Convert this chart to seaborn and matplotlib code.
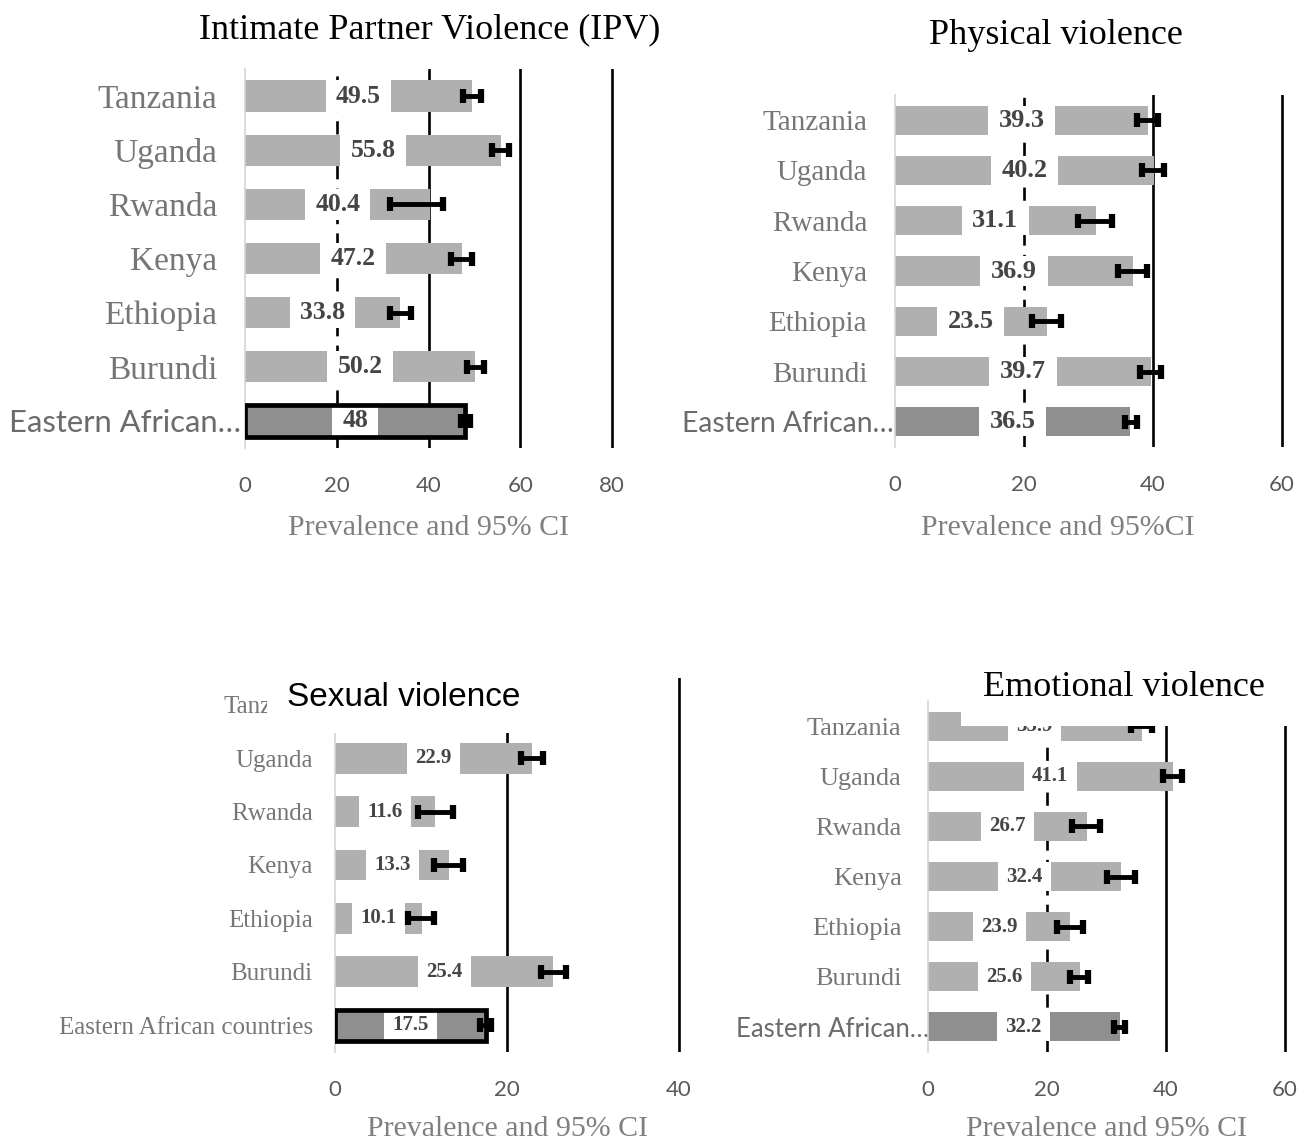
import seaborn as sns
import matplotlib.pyplot as plt
import numpy as np
import pandas as pd

# Data
countries = ['Tanzania', 'Uganda', 'Rwanda', 'Kenya', 'Ethiopia', 'Burundi',
             'Eastern African countries']

ipv = [49.5, 55.8, 40.4, 47.2, 33.8, 50.2, 48.0]
ipv_lo = [47.5, 53.8, 31.6, 44.9, 31.6, 48.4, 47.1]
ipv_hi = [51.4, 57.5, 43.2, 49.5, 36.2, 52.1, 49.0]

physical = [39.3, 40.2, 31.1, 36.9, 23.5, 39.7, 36.5]
phys_lo = [37.5, 38.3, 28.4, 34.6, 21.2, 38.0, 35.7]
phys_hi = [40.8, 41.7, 33.6, 39.1, 25.7, 41.2, 37.5]

# Tanzania bar in the sexual violence panel is hidden behind the title
sexual = [np.nan, 22.9, 11.6, 13.3, 10.1, 25.4, 17.5]
sex_lo = [np.nan, 21.6, 9.7, 11.5, 8.5, 24.0, 16.9]
sex_hi = [np.nan, 24.2, 13.7, 14.9, 11.5, 26.9, 18.1]

emotional = [35.9, 41.1, 26.7, 32.4, 23.9, 25.6, 32.2]
emo_lo = [34.1, 39.5, 24.2, 30.1, 21.7, 23.9, 31.3]
emo_hi = [37.6, 42.7, 28.9, 34.8, 26.1, 26.9, 33.1]

LIGHT = '#b0b0b0'
DARK = '#8f8f8f'
palette = {c: LIGHT for c in countries}
palette[countries[-1]] = DARK

SERIF = 'Liberation Serif'
SANS = 'Lato'

W, H = 1311, 1142
fig = plt.figure(figsize=(W / 100, H / 100), dpi=100)


def px_axes(left, top, right, bottom):
    return fig.add_axes([left / W, 1 - bottom / H, (right - left) / W, (bottom - top) / H])


def draw_panel(ax, vals, lo, hi, xmax, ticks, dashed, outline, ytick_fs, ypad, val_fs,
               short_last, last_fs, last_shift, xlabel, label_pos):
    df = pd.DataFrame({'country': countries, 'value': vals}).dropna()
    sns.barplot(data=df, x='value', y='country', hue='country', palette=palette,
                order=countries, orient='h', width=0.58, saturation=1,
                legend=False, ax=ax)
    n = len(countries)
    ax.set_xlim(0, xmax)
    ax.set_ylim(n - 0.5, -0.5)

    # grid lines
    ax.set_xticks(ticks)
    ax.set_axisbelow(True)
    ax.grid(axis='x', color='black', lw=1.9)
    ax.grid(axis='y', visible=False)
    gl = ax.get_xgridlines()
    gl[0].set_visible(False)
    if dashed:
        gl[1].set_linestyle((0, (5, 3.5)))

    for s in ['top', 'right', 'bottom']:
        ax.spines[s].set_visible(False)
    ax.spines['left'].set_color('#d4d4d4')
    ax.spines['left'].set_linewidth(1.2)

    ax.tick_params(axis='both', length=0)
    ax.tick_params(axis='x', pad=20, labelsize=16, labelcolor='#595959')
    ax.tick_params(axis='y', pad=ypad)
    for t in ax.get_xticklabels():
        t.set_fontfamily(SANS)

    ylabs = list(countries)
    if short_last:
        ylabs[-1] = 'Eastern African\u2026'
    ax.set_yticks(range(n))
    ax.set_yticklabels(ylabs, fontfamily=SERIF, fontsize=ytick_fs, color='#767676')
    if short_last:
        lt = ax.get_yticklabels()[-1]
        lt.set_fontfamily(SANS)
        lt.set_fontsize(last_fs)
        lt.set_color('#6b6b6b')
        lt.set_x(last_shift)

    ax.set_ylabel('')
    ax.set_xlabel(xlabel, fontfamily=SERIF, fontsize=21.5, color='#7f7f7f')
    ax.xaxis.set_label_coords(*label_pos)

    # bars by position
    bars = {}
    for p in ax.patches:
        bars[int(round(p.get_y() + p.get_height() / 2))] = p

    # data labels with white boxes cut into the bars
    for i, v in enumerate(vals):
        if np.isnan(v):
            continue
        t = ax.text(v / 2, i, f'{v:g}', ha='center', va='center', fontsize=val_fs,
                    fontweight='bold', fontfamily=SERIF, color='#454545',
                    bbox=dict(boxstyle='square,pad=0.4', fc='white', ec='none'),
                    clip_on=True, zorder=3)
        t.set_clip_path(bars[i])

    if outline:
        ax.barh(n - 1, vals[-1], height=0.58, fill=False, edgecolor='black',
                linewidth=3.4, zorder=5)

    # asymmetric 95% CI
    pos = [i for i, v in enumerate(vals) if not np.isnan(v)]
    v = np.array([vals[i] for i in pos])
    l = np.array([lo[i] for i in pos])
    h = np.array([hi[i] for i in pos])
    ax.errorbar(v, pos, xerr=[v - l, h - v], fmt='none', ecolor='black',
                elinewidth=3.5, capsize=5, capthick=4.5, zorder=6)


# Panel 1: IPV
ax1 = px_axes(245, 69, 245 + 82 * 4.5875, 448)
draw_panel(ax1, ipv, ipv_lo, ipv_hi, 82, [0, 20, 40, 60, 80], True, True,
           24, 20, 18.5, True, 22.3, 0.062, 'Prevalence and 95% CI', (0.487, -0.178))

# Panel 2: Physical
ax2 = px_axes(895, 95, 895 + 62 * 6.45, 447)
draw_panel(ax2, physical, phys_lo, phys_hi, 62, [0, 20, 40, 60], True, False,
           21, 20, 19, True, 20.3, 0.066, 'Prevalence and 95%CI', (0.4075, -0.192))

# Panel 3: Sexual
ax3 = px_axes(335, 678, 335 + 41.5 * 8.6, 1052)
draw_panel(ax3, sexual, sex_lo, sex_hi, 41.5, [0, 20, 40], False, True,
           18, 16, 15, False, 18, 0.0, 'Prevalence and 95% CI', (0.482, -0.172))

# Panel 4: Emotional
ax4 = px_axes(928, 701, 928 + 62 * 5.95, 1052)
draw_panel(ax4, emotional, emo_lo, emo_hi, 62, [0, 20, 40, 60], True, False,
           19, 19, 15, True, 18.5, 0.074, 'Prevalence and 95% CI', (0.485, -0.182))

# Titles
fig.text(430 / W, 1 - 30 / H, 'Intimate Partner Violence (IPV)', ha='center', va='center',
         fontfamily=SERIF, fontsize=26)
fig.text(1056 / W, 1 - 36 / H, 'Physical violence', ha='center', va='center',
         fontfamily=SERIF, fontsize=26)
fig.text(404 / W, 1 - 697 / H, 'Sexual violence', ha='center', va='center',
         fontfamily='Liberation Sans', fontsize=24,
         bbox=dict(boxstyle='square,pad=0.6', fc='white', ec='none'))
fig.text(1124 / W, 1 - 687 / H, 'Emotional violence', ha='center', va='center',
         fontfamily=SERIF, fontsize=26,
         bbox=dict(boxstyle='square,pad=0.62', fc='white', ec='none'))

fig.savefig('out.png', dpi=100)
